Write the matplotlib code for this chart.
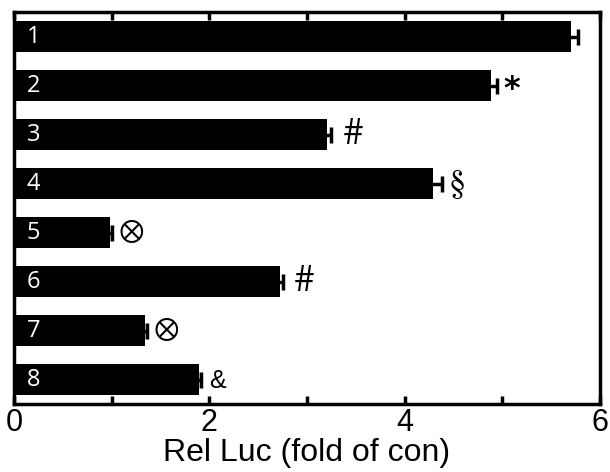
import matplotlib
matplotlib.use("Agg")
import matplotlib.pyplot as plt
from matplotlib.ticker import MultipleLocator

labels = ["1", "2", "3", "4", "5", "6", "7", "8"]
values = [5.70, 4.88, 3.20, 4.29, 0.98, 2.72, 1.34, 1.89]
errors = [0.07, 0.07, 0.05, 0.09, 0.02, 0.03, 0.02, 0.02]
marks = ["", "*", "#", "§", "⊗", "#", "⊗", "&"]
xticks = [0, 2, 4, 6]

mark_style = {
    "*": dict(fontsize=23, fontweight="bold", family="DejaVu Sans", gap=6, dy=-4),
    "#": dict(fontsize=27, family="STIXGeneral", gap=12, dy=0),
    "§": dict(fontsize=25, family="STIXGeneral", gap=7, dy=-1),
    "⊗": dict(fontsize=22, family="STIXGeneral", gap=7, dy=0),
    "&": dict(fontsize=18, family="Liberation Sans", gap=9, dy=-2),
}

fig = plt.figure(figsize=(6.10, 4.72), dpi=100)
ax = fig.add_axes([14/610, 1 - 404/472, (600-14)/610, (404-12)/472])

ypos = list(range(len(labels)))
ax.barh(ypos, values, height=0.62, color="black", xerr=errors,
        error_kw=dict(ecolor="black", elinewidth=2.5, capsize=6, capthick=2.5))

for y, lab in zip(ypos, labels):
    ax.text(0.13, y + 0.02, lab, color="white", va="center", ha="left",
            fontsize=17, family="Open Sans")

for y, v, e, m in zip(ypos, values, errors, marks):
    if not m:
        continue
    st = dict(mark_style[m])
    gap = st.pop("gap")
    dy = st.pop("dy")
    ax.annotate(m, xy=(v + e, y), xytext=(gap * 0.72, dy * 0.72),
                textcoords="offset points", va="center", ha="left", **st)

ax.set_xlim(0, 6)
ax.set_ylim(7.5, -0.5)
ax.set_xticks(xticks)
ax.set_xticklabels([str(t) for t in xticks], fontsize=22, family="Liberation Sans")
ax.xaxis.set_minor_locator(MultipleLocator(1))
ax.tick_params(axis="x", which="both", direction="in", top=True, bottom=True,
               length=6, width=2.5, pad=3)
ax.set_yticks([])
for s in ax.spines.values():
    s.set_linewidth(2.5)
ax.set_xlabel("Rel Luc (fold of con)", fontsize=23, family="Liberation Sans", labelpad=0)

fig.savefig("out.png", dpi=100)
